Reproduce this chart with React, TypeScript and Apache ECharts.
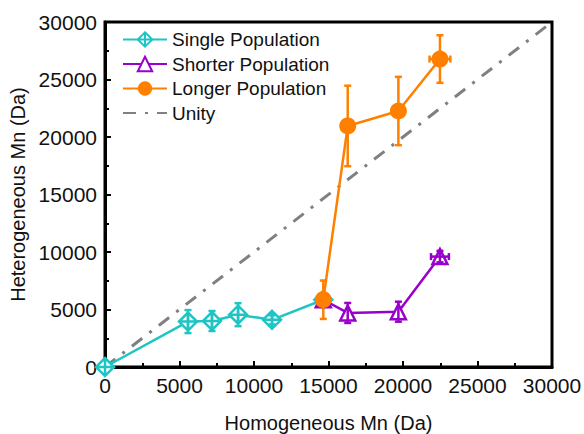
import React, { useEffect, useRef } from "react";
import * as echarts from "echarts";

const FONT = "'Liberation Sans', Arial, sans-serif";

const singleX = [0, 5570, 7180, 8930, 11210, 14650];
const singleY = [0, 3950, 4000, 4550, 4100, 5850];
const singleYErr = [0, 1000, 870, 1000, 400, 0];
const singleXErr = [0, 0, 0, 0, 0, 0];

const shorterX = [14650, 16290, 19690, 22480];
const shorterY = [5850, 4700, 4810, 9600];
const shorterYErr = [0, 870, 870, 500];
const shorterXErr = [0, 0, 0, 600];

const longerX = [14650, 16290, 19690, 22480];
const longerY = [5850, 20960, 22260, 26780];
const longerYErr = [1670, 3500, 2970, 2070];
const longerXErr = [0, 0, 0, 700];

const unityX = [0, 30000];
const unityY = [0, 30000];

const CYAN = "#1FC4C4";
const PURPLE = "#9900CC";
const ORANGE = "#FF8000";
const GRAY = "#808080";

const DIAMOND_PLUS = "path://M0,-10 L10,0 L0,10 L-10,0 Z M0,-10 L0,10 M-10,0 L10,0";

function pts(xs: number[], ys: number[]) {
  return xs.map((x, i) => [x, ys[i]]);
}
function errPts(xs: number[], ys: number[], xe: number[], ye: number[]) {
  return xs.map((x, i) => [x, ys[i], xe[i], ye[i]]);
}

function errorSeries(name: string, color: string, data: number[][], z: number) {
  return {
    type: "custom",
    name,
    z,
    silent: true,
    encode: { x: 0, y: 1 },
    data,
    renderItem: (params: any, api: any) => {
      const x = api.value(0);
      const y = api.value(1);
      const xe = api.value(2);
      const ye = api.value(3);
      const c = api.coord([x, y]);
      const style = { stroke: color, lineWidth: 2.5 };
      const cap = 3.5;
      const children: any[] = [];
      if (ye > 0) {
        const t = api.coord([x, y + ye]);
        const b = api.coord([x, y - ye]);
        children.push({ type: "line", shape: { x1: c[0], y1: t[1], x2: c[0], y2: b[1] }, style });
        children.push({ type: "line", shape: { x1: c[0] - cap, y1: t[1], x2: c[0] + cap, y2: t[1] }, style });
        children.push({ type: "line", shape: { x1: c[0] - cap, y1: b[1], x2: c[0] + cap, y2: b[1] }, style });
      }
      if (xe > 0) {
        const l = api.coord([x - xe, y]);
        const r = api.coord([x + xe, y]);
        children.push({ type: "line", shape: { x1: l[0], y1: c[1], x2: r[0], y2: c[1] }, style });
        children.push({ type: "line", shape: { x1: l[0], y1: c[1] - cap, x2: l[0], y2: c[1] + cap }, style });
        children.push({ type: "line", shape: { x1: r[0], y1: c[1] - cap, x2: r[0], y2: c[1] + cap }, style });
      }
      return { type: "group", children };
    },
  };
}

export default function App() {
  const ref = useRef<HTMLDivElement>(null);
  useEffect(() => {
    if (!ref.current) return;
    const chart = echarts.init(ref.current, null, { renderer: "svg" });
    const axisCommon = {
      type: "value",
      min: 0,
      max: 30000,
      interval: 5000,
      axisLine: { show: true, onZero: false, lineStyle: { color: "#000", width: 3 } },
      axisTick: { show: true, inside: true, length: 6, lineStyle: { color: "#000", width: 2 } },
      minorTick: { show: true, splitNumber: 2, length: 4, lineStyle: { color: "#000", width: 2 } },
      splitLine: { show: false },
      axisLabel: {
        fontSize: 21,
        color: "#111",
        fontFamily: FONT,
        margin: 8,
        formatter: (v: number) => String(v),
      },
      nameLocation: "middle",
      nameTextStyle: { fontSize: 20, color: "#111", fontFamily: FONT },
    };
    chart.setOption({
      animation: false,
      backgroundColor: "#fff",
      textStyle: { fontFamily: FONT },
      grid: {
        left: 105,
        right: 32,
        top: 22,
        bottom: 67,
        outerBoundsMode: "none",
        containLabel: false,
        show: true,
        borderColor: "#000",
        borderWidth: 3,
        backgroundColor: "transparent",
      },
      xAxis: { ...axisCommon, name: "Homogeneous Mn (Da)", nameGap: 46 },
      yAxis: { ...axisCommon, name: "Heterogeneous Mn (Da)", nameGap: 74 },
      legend: {
        orient: "vertical",
        left: 117,
        top: 25,
        itemWidth: 44,
        itemHeight: 18,
        itemGap: 5.5,
        textStyle: { fontSize: 19, color: "#111", fontFamily: FONT },
        data: [
          "Single Population",
          "Shorter Population",
          "Longer Population",
          { name: "Unity", itemStyle: { opacity: 0 } },
        ],
      },
      series: [
        {
          type: "line",
          name: "Unity",
          data: pts(unityX, unityY),
          symbol: "none",
          z: 1,
          lineStyle: { color: GRAY, width: 3, type: [13, 9, 3, 9] },
          itemStyle: { color: GRAY },
        },
        {
          type: "line",
          name: "Single Population",
          data: pts(singleX, singleY),
          symbol: DIAMOND_PLUS,
          symbolSize: 18,
          z: 2,
          lineStyle: { color: CYAN, width: 2.5 },
          itemStyle: { color: "#fff", borderColor: CYAN, borderWidth: 2.5 },
        },
        errorSeries("e1", CYAN, errPts(singleX, singleY, singleXErr, singleYErr), 3),
        {
          type: "line",
          name: "Shorter Population",
          data: pts(shorterX, shorterY),
          symbol: "triangle",
          symbolSize: 15,
          z: 4,
          lineStyle: { color: PURPLE, width: 2.5 },
          itemStyle: { color: "#fff", borderColor: PURPLE, borderWidth: 2.5 },
        },
        errorSeries("e2", PURPLE, errPts(shorterX, shorterY, shorterXErr, shorterYErr), 5),
        {
          type: "line",
          name: "Longer Population",
          data: pts(longerX, longerY),
          symbol: "circle",
          symbolSize: 17,
          z: 6,
          lineStyle: { color: ORANGE, width: 2.5 },
          itemStyle: { color: ORANGE, borderColor: ORANGE, borderWidth: 0 },
        },
        errorSeries("e3", ORANGE, errPts(longerX, longerY, longerXErr, longerYErr), 7),
      ],
    });
    return () => chart.dispose();
  }, []);
  return <div ref={ref} style={{ width: 584, height: 434, position: "absolute", left: 0, top: 0 }} />;
}
